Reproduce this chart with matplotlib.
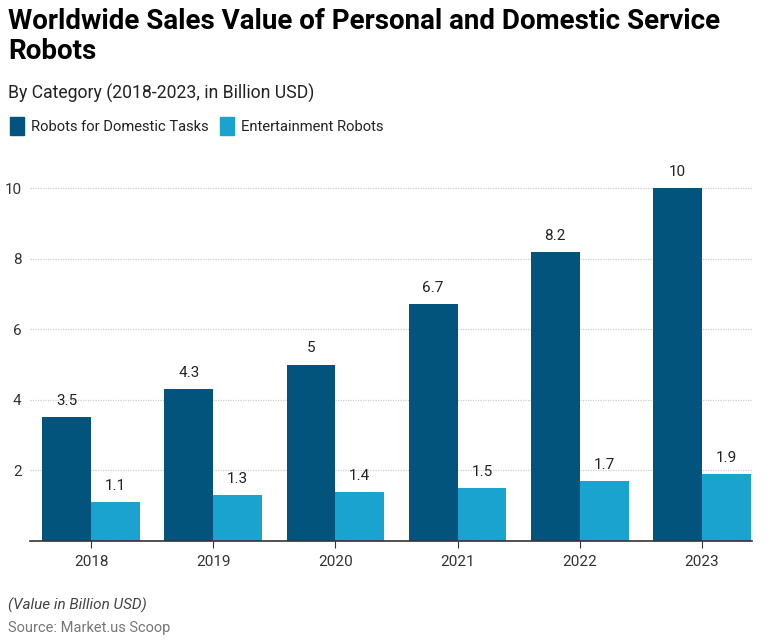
import matplotlib
matplotlib.use("Agg")
import matplotlib.pyplot as plt
from matplotlib.patches import Patch
import numpy as np

plt.rcParams['font.family'] = ['Roboto', 'DejaVu Sans']

years = ["2018", "2019", "2020", "2021", "2022", "2023"]
domestic = [3.5, 4.3, 5, 6.7, 8.2, 10]
entertainment = [1.1, 1.3, 1.4, 1.5, 1.7, 1.9]
series_names = ["Robots for Domestic Tasks", "Entertainment Robots"]
dark = "#03547d"
light = "#1ba3cf"

W, H = 768, 642
fig = plt.figure(figsize=(W/100, H/100), dpi=100)
ax = fig.add_axes([30/W, 1-541/H, (752-30)/W, (541-150)/H])

x = np.arange(len(years))
bw = 0.40
ax.bar(x - bw/2, domestic, bw, color=dark)
ax.bar(x + bw/2, entertainment, bw, color=light)

for xi, v in zip(x, domestic):
    ax.annotate(f"{v:g}", (xi - bw/2, v), xytext=(0, 6.5), textcoords="offset points",
                ha="center", va="bottom", fontsize=11, color="#222222")
for xi, v in zip(x, entertainment):
    ax.annotate(f"{v:g}", (xi + bw/2, v), xytext=(0, 6.5), textcoords="offset points",
                ha="center", va="bottom", fontsize=11, color="#222222")

ax.set_xlim(-0.5, 5.41)
ax.set_ylim(0, (541-150)/35.3)
ax.set_yticks([2, 4, 6, 8, 10])
ax.set_xticks(x)
ax.set_xticklabels(years)
ax.tick_params(axis="x", length=5, color="#333333", labelsize=11, labelcolor="#333333", pad=5)
ax.tick_params(axis="y", length=0, labelsize=11, labelcolor="#333333", pad=6)
ax.grid(axis="y", color="#cccccc", linewidth=0.9, linestyle=(0, (1, 1)))
ax.set_axisbelow(True)
for s in ["top", "right", "left"]:
    ax.spines[s].set_visible(False)
ax.spines["bottom"].set_color("#333333")
ax.spines["bottom"].set_linewidth(1.2)

fig.text(8/W, 1-8/H, "Worldwide Sales Value of Personal and Domestic Service\nRobots",
         ha="left", va="top", fontsize=20, fontweight="bold", color="#000000", linespacing=1.15)
fig.text(8/W, 1-93/H, "By Category (2018-2023, in Billion USD)", ha="left", va="center",
         fontsize=12.7, color="#222222")

handles = [Patch(color=dark), Patch(color=light)]
fig.legend(handles, series_names, loc="center left", bbox_to_anchor=(-3/W, 1-126/H), ncol=2,
           frameon=False, fontsize=10.6, handlelength=0.95, handleheight=1.5, handletextpad=0.45,
           columnspacing=0.8, labelcolor="#222222")

fig.text(8/W, 1-605/H, "(Value in Billion USD)", ha="left", va="center", fontsize=11,
         style="italic", color="#444444")
fig.text(8/W, 1-628/H, "Source: Market.us Scoop", ha="left", va="center", fontsize=10.5,
         color="#777777")

fig.savefig("out.png", dpi=100)
